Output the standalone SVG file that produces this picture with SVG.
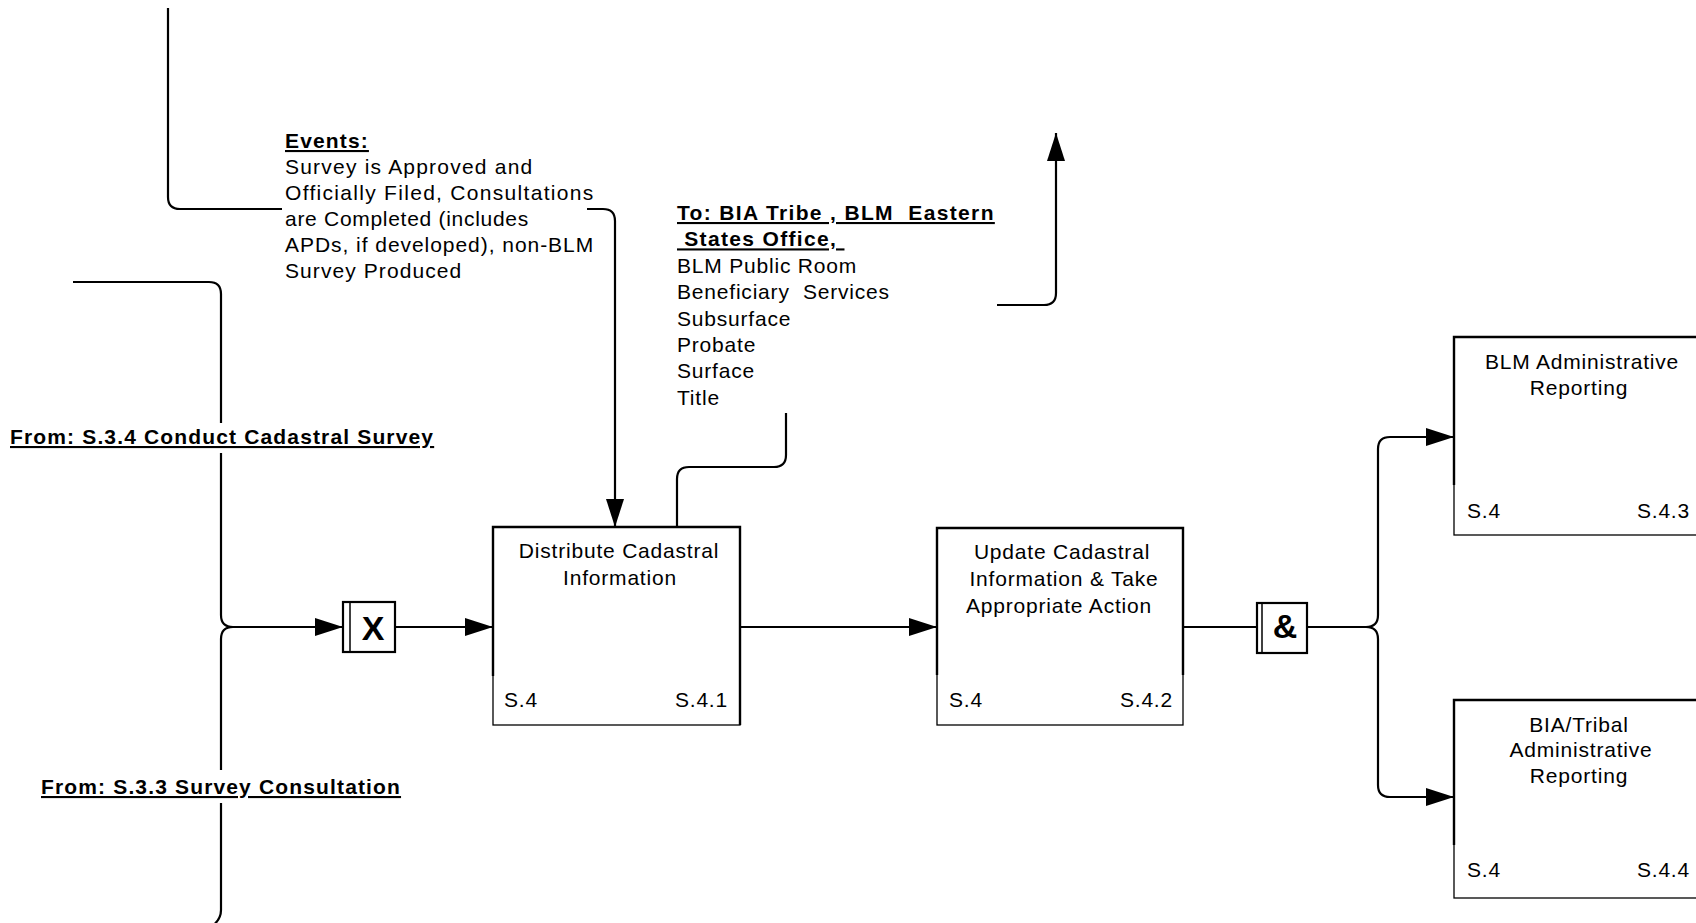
<svg xmlns="http://www.w3.org/2000/svg" width="1696" height="923" viewBox="0 0 1696 923">
<defs>
<marker id="arr" markerUnits="userSpaceOnUse" markerWidth="30" markerHeight="20" refX="28" refY="9" orient="auto">
<path d="M0,0 L28,9 L0,18 z" fill="#000"/>
</marker>
<style>
text{font-family:"Liberation Sans",Arial,sans-serif;font-size:21px;fill:#000;letter-spacing:0.8px}
.b{font-weight:bold;letter-spacing:1.15px}
.u{text-decoration:underline}
.c{text-anchor:middle}
.e{text-anchor:end}
.g{font-weight:bold;font-size:34px;letter-spacing:0;text-anchor:middle}
.ln{fill:none;stroke:#000;stroke-width:2.2}
.thin{fill:#fff;stroke:#000;stroke-width:1.3}
.thick{fill:none;stroke:#000;stroke-width:2.4}
.bg{fill:#fff;stroke:none}
</style>
</defs>
<rect width="1696" height="923" fill="#fff"/>

<g id="connectors">
<path class="ln" d="M168,8 V197 Q168,209 180,209 H603 Q615,209 615,221 V527" marker-end="url(#arr)"/>
<path class="ln" d="M73,282 H209 Q221,282 221,294 V615 Q221,627 233,627 H343" marker-end="url(#arr)"/>
<path class="ln" d="M233,627 Q221,627 221,639 V910 Q221,920 211,927"/>
<path class="ln" d="M395,627 H493" marker-end="url(#arr)"/>
<path class="ln" d="M740,627 H937" marker-end="url(#arr)"/>
<path class="ln" d="M1183,627 H1257"/>
<path class="ln" d="M1307,627 H1366"/>
<path class="ln" d="M1366,627 Q1378,627 1378,615 V449 Q1378,437 1390,437 H1454" marker-end="url(#arr)"/>
<path class="ln" d="M1366,627 Q1378,627 1378,639 V785 Q1378,797 1390,797 H1454" marker-end="url(#arr)"/>
<path class="ln" d="M677,527 V479 Q677,467 689,467 H774 Q786,467 786,455 V317 Q786,305 798,305 H1044 Q1056,305 1056,293 V133" marker-end="url(#arr)"/>
</g>

<g id="events-label">
<rect class="bg" x="282" y="122" width="305" height="166"/>
<text x="285" y="148" class="b u">Events:</text>
<text x="285" y="174" textLength="248" lengthAdjust="spacing">Survey is Approved and</text>
<text x="285" y="200" textLength="309" lengthAdjust="spacing">Officially Filed, Consultations</text>
<text x="285" y="226" textLength="244" lengthAdjust="spacing">are Completed (includes</text>
<text x="285" y="252" textLength="309" lengthAdjust="spacing">APDs, if developed), non-BLM</text>
<text x="285" y="278" textLength="177" lengthAdjust="spacing">Survey Produced</text>
</g>

<g id="to-label">
<rect class="bg" x="672" y="198" width="325" height="215"/>
<text x="677" y="220" class="b u" style="white-space:pre;letter-spacing:1.35px">To: BIA Tribe , BLM  Eastern</text>
<text x="677" y="246.4" class="b u" style="white-space:pre;letter-spacing:1.35px"> States Office, </text>
<text x="677" y="272.8">BLM Public Room</text>
<text x="677" y="299.2" style="white-space:pre">Beneficiary  Services</text>
<text x="677" y="325.6">Subsurface</text>
<text x="677" y="352">Probate</text>
<text x="677" y="378.4">Surface</text>
<text x="677" y="404.8">Title</text>
</g>

<g id="from-s34">
<rect class="bg" x="8" y="423" width="428" height="30"/>
<text x="10" y="444" class="b u">From: S.3.4 Conduct Cadastral Survey</text>
</g>

<g id="from-s33">
<rect class="bg" x="38" y="770" width="368" height="33"/>
<text x="41" y="794" class="b u">From: S.3.3 Survey Consultation</text>
</g>

<g id="gate-x">
<rect x="343" y="602" width="52" height="50" fill="#fff" stroke="#000" stroke-width="2.2"/>
<line x1="350" y1="602" x2="350" y2="652" stroke="#000" stroke-width="1.5"/>
<text x="373" y="640" class="g">X</text>
</g>

<g id="gate-and">
<rect x="1257" y="603" width="50" height="50" fill="#fff" stroke="#000" stroke-width="2.2"/>
<line x1="1262" y1="603" x2="1262" y2="653" stroke="#000" stroke-width="1.5"/>
<text x="1285" y="638" class="g">&amp;</text>
</g>

<g id="s41">
<rect class="thin" x="493" y="527" width="247" height="198"/>
<path class="thick" d="M493,676 V527 H740 V725"/>
<text x="619" y="558" class="c">Distribute Cadastral</text>
<text x="620" y="585" class="c">Information</text>
<text x="504" y="707">S.4</text>
<text x="728" y="707" class="e">S.4.1</text>
</g>

<g id="s42">
<rect class="thin" x="937" y="528" width="246" height="197"/>
<path class="thick" d="M937,675 V528 H1183 V675"/>
<text x="1062" y="559" class="c">Update Cadastral</text>
<text x="1064" y="586" class="c">Information &amp; Take</text>
<text x="1059" y="613" class="c">Appropriate Action</text>
<text x="949" y="707">S.4</text>
<text x="1173" y="707" class="e">S.4.2</text>
</g>

<g id="s43">
<rect class="thin" x="1454" y="337" width="260" height="198"/>
<path class="thick" d="M1454,485 V337 H1714"/>
<text x="1582" y="369" class="c">BLM Administrative</text>
<text x="1579" y="395" class="c">Reporting</text>
<text x="1467" y="518">S.4</text>
<text x="1690" y="518" class="e">S.4.3</text>
</g>

<g id="s44">
<rect class="thin" x="1454" y="700" width="260" height="198"/>
<path class="thick" d="M1454,845 V700 H1714"/>
<text x="1579" y="732" class="c">BIA/Tribal</text>
<text x="1581" y="757" class="c">Administrative</text>
<text x="1579" y="783" class="c">Reporting</text>
<text x="1467" y="877">S.4</text>
<text x="1690" y="877" class="e">S.4.4</text>
</g>
</svg>
